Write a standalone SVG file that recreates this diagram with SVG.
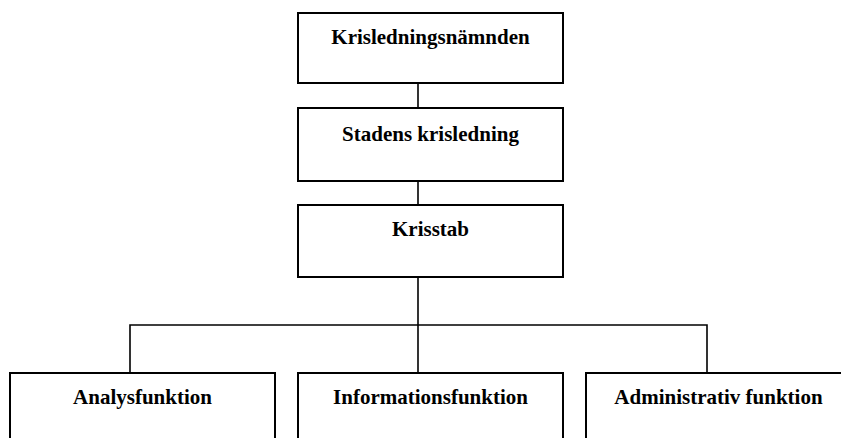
<svg xmlns="http://www.w3.org/2000/svg" width="841" height="438" viewBox="0 0 841 438">
<style>
.box{fill:#fff;stroke:#000;stroke-width:2}
.lbl{font-family:"Liberation Serif","Times New Roman",serif;font-weight:bold;font-size:21px;fill:#000;text-anchor:middle}
.con{fill:none;stroke:#000;stroke-width:1.6}
</style>
<rect width="841" height="438" fill="#fff"/>
<g id="connectors">
<line class="con" x1="418" y1="83" x2="418" y2="108"/>
<line class="con" x1="418" y1="181" x2="418" y2="205"/>
<line class="con" x1="418" y1="277" x2="418" y2="325"/>
<polyline class="con" points="130,373 130,325 707,325 707,373"/>
<line class="con" x1="418" y1="325" x2="418" y2="373"/>
</g>
<g id="n1"><rect class="box" x="298" y="13" width="265" height="70"/><text class="lbl" x="430.5" y="44">Krisledningsnämnden</text></g>
<g id="n2"><rect class="box" x="298" y="108" width="265" height="73"/><text class="lbl" x="430.5" y="141">Stadens krisledning</text></g>
<g id="n3"><rect class="box" x="298" y="205" width="265" height="72"/><text class="lbl" x="430.5" y="236">Krisstab</text></g>
<g id="n4"><rect class="box" x="10" y="373" width="265" height="80"/><text class="lbl" x="142.5" y="404">Analysfunktion</text></g>
<g id="n5"><rect class="box" x="298" y="373" width="265" height="80"/><text class="lbl" x="430.5" y="404">Informationsfunktion</text></g>
<g id="n6"><rect class="box" x="586" y="373" width="265" height="80"/><text class="lbl" x="718.5" y="404">Administrativ funktion</text></g>
</svg>
